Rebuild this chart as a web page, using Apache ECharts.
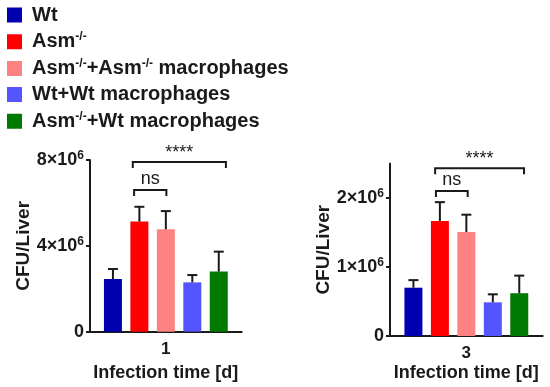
<!DOCTYPE html>
<html><head><meta charset="utf-8">
<script src="https://cdn.jsdelivr.net/npm/echarts@6/dist/echarts.min.js"></script>
<style>html,body{margin:0;padding:0;background:#fff}#c{width:550px;height:387px}</style>
</head><body><div id="c"></div>
<script>
// ---- data ----
const seriesNames = ['Wt', 'Asm-/-', 'Asm-/-+Asm-/- macrophages', 'Wt+Wt macrophages', 'Asm-/-+Wt macrophages'];
const seriesColors = ['#0000B0', '#FF0000', '#FF8282', '#5555FF', '#007A00'];
const day1Category = ['1'];
const day3Category = ['3'];
const day1Means = [2.45e6, 5.13e6, 4.77e6, 2.30e6, 2.80e6];
const day1Sem   = [0.47e6, 0.69e6, 0.85e6, 0.34e6, 0.93e6];
const day3Means = [0.70e6, 1.667e6, 1.507e6, 0.488e6, 0.62e6];
const day3Sem   = [0.11e6, 0.273e6, 0.251e6, 0.116e6, 0.255e6];
const day1TickValues = [0, 4e6, 8e6];
const day3TickValues = [0, 1e6, 2e6];
const day1Max = 8e6;
const day3Max = 2.5e6;
// brackets: [y value, from bar slot, to bar slot, label index]
const bracketLabels = ['****', 'ns'];
const day1Brackets = [[7.91e6, 0.75, 4.27, 0], [6.60e6, 0.8, 2.02, 1]];
const day3Brackets = [[2.43e6, 0.82, 4.18, 0], [2.10e6, 0.85, 2.05, 1]];

// ---- style ----
const FONT = 'Liberation Sans, Arial, Helvetica, sans-serif';
const INK = '#1a1a1a';
const BAR_W = 18;
const BAR_GAP = 0.47;
const SLOT = BAR_W * (1 + BAR_GAP);

function supLabel(v) {
  if (v === 0) return '{a|0}';
  return '{a|' + (v / 1e6) + '×10}{s|6}';
}
function legendLabel(name) {
  return name.split('-/-').map(p => p ? '{n|' + p + '}' : '').join('{s|-/-}');
}

function errRender(params, api) {
  const i = api.value(3);
  const c = api.coord([api.value(0), api.value(1)]);
  const t = api.coord([api.value(0), api.value(2)]);
  const x = c[0] + (i - 2) * SLOT;
  return {type: 'group', children: [
    {type: 'line', shape: {x1: x, y1: c[1], x2: x, y2: t[1]}, style: {stroke: INK, lineWidth: 2}},
    {type: 'line', shape: {x1: x - 5, y1: t[1], x2: x + 5, y2: t[1]}, style: {stroke: INK, lineWidth: 2}}
  ]};
}
function brRender(params, api) {
  const c = api.coord([0, api.value(1)]);
  const x1 = c[0] + (api.value(2) - 2) * SLOT;
  const x2 = c[0] + (api.value(3) - 2) * SLOT;
  const y = c[1];
  const li = api.value(4);
  const isStars = bracketLabels[li] === '****';
  return {type: 'group', children: [
    {type: 'polyline', shape: {points: [[x1, y + 6], [x1, y], [x2, y], [x2, y + 6]]},
     style: {stroke: INK, lineWidth: 2, fill: null}},
    {type: 'text', x: (x1 + x2) / 2, y: y - (isStars ? 9 : 11),
     style: {text: bracketLabels[li], align: 'center', verticalAlign: 'middle',
             fontSize: 18, fontFamily: FONT, fontWeight: 'normal', fill: INK}}
  ]};
}

function makeAxes(gi, cats, max, ticks, xGap) {
  return {
    x: {
      type: 'category', gridIndex: gi, data: cats,
      axisLine: {lineStyle: {color: INK, width: 2}},
      axisTick: {alignWithLabel: true, length: 5, lineStyle: {color: INK, width: 2}},
      axisLabel: {fontSize: 17, fontWeight: 'bold', fontFamily: FONT, color: INK, margin: 9},
      name: 'Infection time [d]', nameLocation: 'middle', nameGap: xGap,
      nameTextStyle: {fontSize: 18, fontWeight: 'bold', fontFamily: FONT, color: INK}
    },
    y: {
      type: 'value', gridIndex: gi, min: 0, max: max,
      splitLine: {show: false},
      axisLine: {show: true, lineStyle: {color: INK, width: 2}},
      axisTick: {show: true, length: 4, customValues: ticks, lineStyle: {color: INK, width: 2}},
      axisLabel: {customValues: ticks, formatter: supLabel, margin: 6,
        rich: {
          a: {fontSize: 18, fontWeight: 'bold', fontFamily: FONT, color: INK, lineHeight: 20},
          s: {fontSize: 12, fontWeight: 'bold', fontFamily: FONT, color: INK, verticalAlign: 'top', lineHeight: 10}
        }},
      name: 'CFU/Liver', nameLocation: 'middle', nameGap: 57, nameRotate: 90,
      nameTextStyle: {fontSize: 19, fontWeight: 'bold', fontFamily: FONT, color: INK}
    }
  };
}

const a1 = makeAxes(0, day1Category, day1Max, day1TickValues, 32);
const a2 = makeAxes(1, day3Category, day3Max, day3TickValues, 28);

const series = [];
[[day1Means, day1Sem, day1Brackets, 0], [day3Means, day3Sem, day3Brackets, 1]].forEach(([means, sem, brs, gi]) => {
  seriesNames.forEach((n, i) => {
    series.push({
      type: 'bar', name: n, xAxisIndex: gi, yAxisIndex: gi,
      data: [means[i]], barWidth: BAR_W, barGap: (BAR_GAP * 100) + '%',
      itemStyle: {color: seriesColors[i]}, z: 2
    });
  });
  series.push({
    type: 'custom', name: 'sem' + gi, xAxisIndex: gi, yAxisIndex: gi, z: 3,
    renderItem: errRender, silent: true,
    data: means.map((m, i) => [0, m, m + sem[i], i])
  });
  series.push({
    type: 'custom', name: 'sig' + gi, xAxisIndex: gi, yAxisIndex: gi, z: 3,
    renderItem: brRender, silent: true,
    data: brs.map(b => [0, b[0], b[1], b[2], b[3]])
  });
});

const chart = echarts.init(document.getElementById('c'), null, {renderer: 'canvas'});
chart.setOption({
  animation: false,
  backgroundColor: '#fff',
  legend: {
    data: seriesNames, orient: 'vertical', left: 7, top: 5, padding: 0,
    itemWidth: 15, itemHeight: 15, itemGap: 6, icon: 'rect',
    formatter: legendLabel,
    textStyle: {
      padding: [0, 0, 0, 5],
      rich: {
        n: {fontSize: 20, fontWeight: 'bold', fontFamily: FONT, color: INK, lineHeight: 21.5},
        s: {fontSize: 12, fontWeight: 'bold', fontFamily: FONT, color: INK, verticalAlign: 'top', lineHeight: 11}
      }
    }
  },
  grid: [
    {left: 90, top: 160, width: 151.7, height: 171.7},
    {left: 390, top: 163.5, width: 152.7, height: 172.5}
  ],
  xAxis: [a1.x, a2.x],
  yAxis: [a1.y, a2.y],
  series: series
});
</script>
</body></html>
